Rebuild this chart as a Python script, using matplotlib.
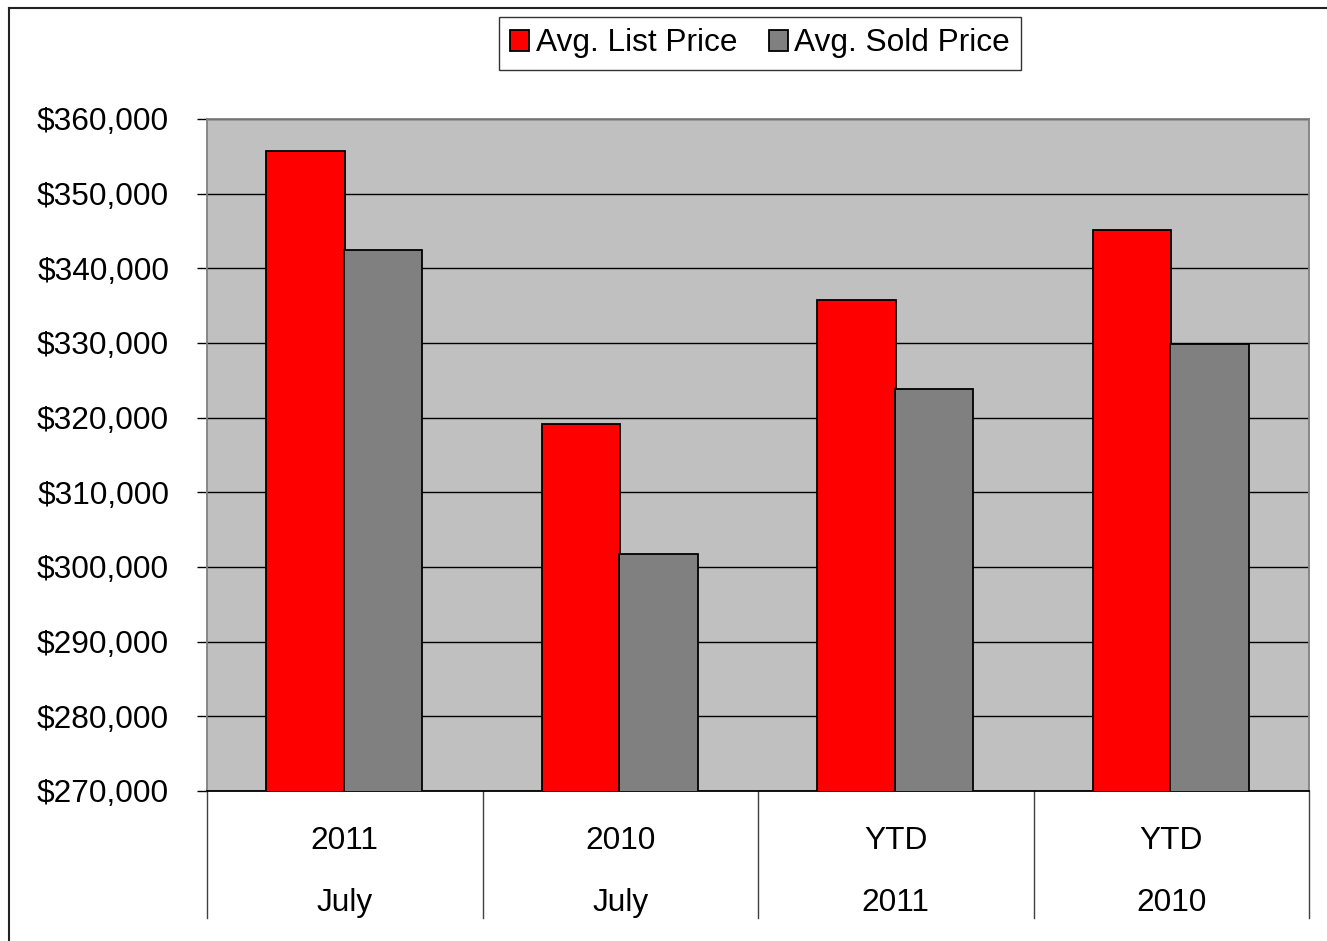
import numpy as np
import matplotlib
matplotlib.use('Agg')
import matplotlib.pyplot as plt
from matplotlib.lines import Line2D
from matplotlib.ticker import FuncFormatter

plt.rcParams['font.family'] = ['Liberation Sans', 'DejaVu Sans']

# data
top_labels    = ['2011', '2010', 'YTD', 'YTD']
bottom_labels = ['July', 'July', '2011', '2010']
list_price = [355700, 319100, 335700, 345100]
sold_price = [342400, 301800, 323800, 329800]
series_names = ['Avg. List Price', 'Avg. Sold Price']

W, H = 1327, 941
fig = plt.figure(figsize=(W / 100, H / 100), dpi=100)
ax = fig.add_axes([207 / W, 1 - 791 / H, (1309 - 207) / W, (791 - 119) / H])
ax.set_facecolor('#C0C0C0')

x = np.arange(len(top_labels))
bw = 0.285
ax.bar(x - bw / 2, list_price, bw, color='#FF0000', edgecolor='black',
       linewidth=1.3, label=series_names[0], zorder=3)
ax.bar(x + bw / 2 - 0.004, sold_price, bw, color='#808080', edgecolor='black',
       linewidth=1.3, label=series_names[1], zorder=3)

ax.set_xlim(-0.5, len(top_labels) - 0.5)
ax.set_ylim(270000, 360000)
ax.set_yticks(np.arange(270000, 360001, 10000))
ax.yaxis.set_major_formatter(FuncFormatter(lambda v, p: f'${v:,.0f}'))
ax.grid(axis='y', color='black', linewidth=1.0, zorder=1)
ax.set_axisbelow(True)

ax.tick_params(axis='y', labelsize=22.8, length=7.2, width=1.0, pad=20, color='black')
ax.set_xticks([])
for side in ['left', 'top', 'right']:
    ax.spines[side].set_color('#808080')
    ax.spines[side].set_linewidth(1.3)
ax.spines['bottom'].set_color('black')
ax.spines['bottom'].set_linewidth(1.3)

# two-level category axis
span = 791 - 119
drop = (918 - 791) / span
for b in np.arange(-0.5, len(top_labels), 1.0):
    ax.plot([b, b], [0, -drop], transform=ax.get_xaxis_transform(),
            color='#404040', linewidth=1.0, clip_on=False)
for i in range(len(top_labels)):
    ax.text(i, -(841 - 791) / span, top_labels[i], transform=ax.get_xaxis_transform(),
            ha='center', va='center', fontsize=22.8)
    ax.text(i, -(903 - 791) / span, bottom_labels[i], transform=ax.get_xaxis_transform(),
            ha='center', va='center', fontsize=22.8)

leg = fig.legend(loc='center', bbox_to_anchor=(760 / W, 1 - 43.5 / H), ncol=2,
                 fontsize=22.8, frameon=True, fancybox=False, edgecolor='black',
                 handlelength=0.6, handleheight=0.65, handletextpad=0.2,
                 columnspacing=1.0, borderpad=0.35, borderaxespad=0)
leg.get_frame().set_linewidth(1.0)

# outer chart border
fig.add_artist(Line2D([9 / W, 9 / W], [1 - 8 / H, 0], transform=fig.transFigure,
                      color='#222222', linewidth=1.5))
fig.add_artist(Line2D([9 / W, 1], [1 - 8 / H, 1 - 8 / H], transform=fig.transFigure,
                      color='#222222', linewidth=1.5))

fig.savefig('out.png', dpi=100)
